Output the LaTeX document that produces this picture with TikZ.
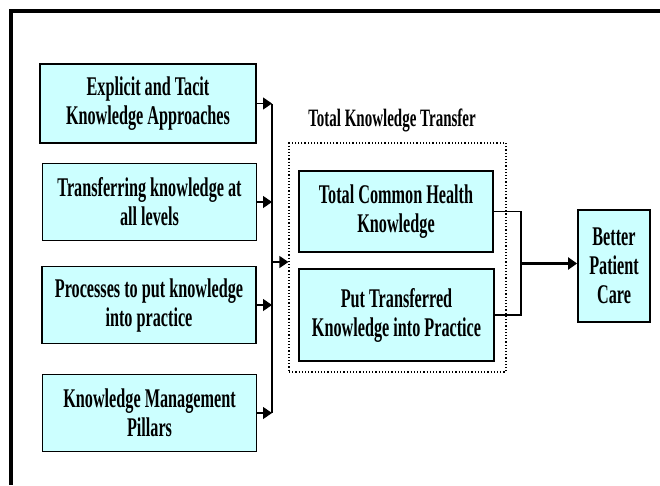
\documentclass[tikz,border=0pt]{standalone}
\usepackage{fontspec}
\newfontfamily\condfont[FakeStretch=0.6]{Liberation Serif}
\usepackage{tikz}
\usetikzlibrary{positioning,arrows.meta}

\definecolor{boxcyan}{RGB}{204,255,255}
\tikzset{
  kbox/.style={draw, line width=1.8pt, fill=boxcyan, align=center,
               minimum width=214pt, minimum height=77pt, inner sep=2pt,
               font=\condfont\bfseries\fontsize{27}{29}\selectfont},
  feed/.style={line width=1.3pt, -{Triangle[length=9pt,width=12pt]}},
}

\begin{document}
\begin{tikzpicture}[x=1pt,y=-1pt]
                  \useasboundingbox (0,0) rectangle (660,485);
                  \draw[line width=3.6pt] (660,11) -- (11,11) -- (11,485);
                  % inputs
                  \node[kbox, minimum width=216pt, minimum height=79pt] (expl) at (148,103.5) {Explicit and Tacit\\Knowledge Approaches};
                  \node[kbox] (trans) at (149.5,202) {Transferring knowledge at\\all levels};
                  \node[kbox] (proc) at (149,305) {Processes to put knowledge\\into practice};
                  \node[kbox] (pill) at (149.5,413) {Knowledge Management\\Pillars};
                  % total knowledge transfer
                  \node[draw, dotted, line width=1.2pt, minimum width=217pt, minimum height=229pt] (tkt) at (397.5,257.5) {};
                  \node[font=\condfont\bfseries\fontsize{25}{27}\selectfont] (tktlabel) at (392,120) {Total Knowledge Transfer};
                  \node[kbox, minimum width=194pt, minimum height=81pt] (tchk) at (396,211.5) {Total Common Health\\Knowledge};
                  \node[kbox, minimum width=195pt, minimum height=92pt] (ptkp) at (396.5,315) {Put Transferred\\Knowledge into Practice};
                  \node[kbox, minimum width=72pt, minimum height=112pt] (care) at (614,266) {Better\\Patient\\Care};
                  \coordinate (bus) at (272,262);
                  \coordinate (join) at (521,263.5);
                  \draw[line width=1.3pt] (expl.east -| bus) -- (pill.east -| bus);
                  \foreach \src in {expl,trans,proc,pill}
                      \draw[feed] (\src.east) -- (\src.east -| bus);
                  \draw[feed] (bus) -- (bus -| tkt.west);
                  \draw[line width=1.3pt] (tchk.east) -| (join) |- (ptkp.east);
                  \draw[feed, line width=2.2pt] (join) -- (join -| care.west);
              \end{tikzpicture}
\end{document}
